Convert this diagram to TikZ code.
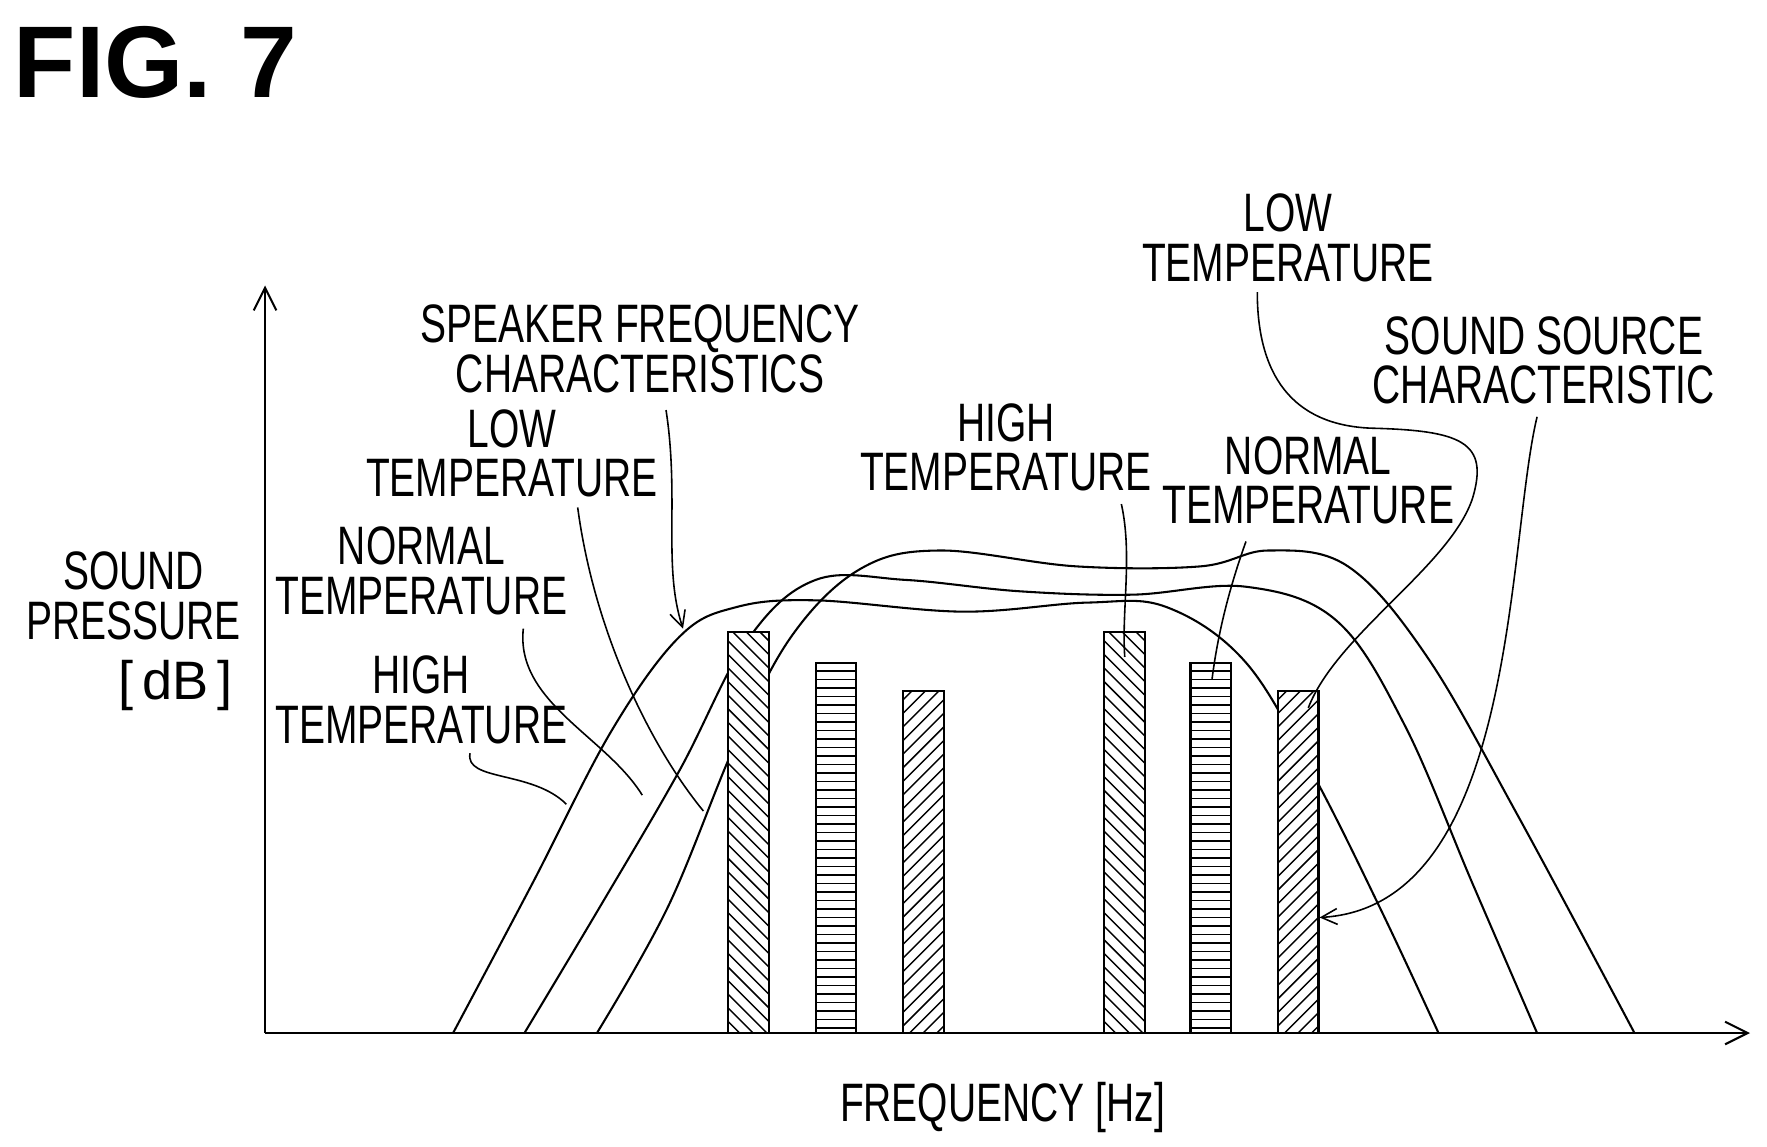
\documentclass[tikz,border=0pt]{standalone}
\usepackage{fontspec}
\newfontfamily\lab[FakeStretch=0.72]{Liberation Sans}
\newfontfamily\figf{Liberation Sans}
\usetikzlibrary{arrows.meta}
\begin{document}
\begin{tikzpicture}[x=0.25mm,y=-0.25mm,
  txt/.style={font=\lab\fontsize{34}{31}\selectfont,align=center,inner sep=0},
  curve/.style={line width=1.3pt},
  lead/.style={line width=1pt},
  bar/.style={line width=1.3pt,fill=white}]
\useasboundingbox (0,0) rectangle (1560,1012);
\node[anchor=west,inner sep=0,font=\figf\bfseries\fontsize{64}{64}\selectfont] (fig) at (12,55) {FIG. 7};
% axes
\coordinate (o) at (234,912);
\coordinate (ytop) at (234,252);
\coordinate (xend) at (1545,912);
\draw[line width=1.3pt,-{Straight Barb[length=5mm,width=5mm]}] (o) -- (ytop);
\draw[line width=1.3pt,-{Straight Barb[length=5mm,width=5mm]}] (o) -- (xend);
\node[txt] (yl) at (118,526) {SOUND\\PRESSURE};
\node[txt,font=\figf\fontsize{34}{31}\selectfont] (db) at (155,605) {[\,dB\,]};
\node[txt] (xl) at (885,978) {FREQUENCY [Hz]};
% curves
\draw[curve] plot[smooth,tension=0.6] coordinates {(400,912) (470,780) (540,645) (600,562) (650,536) (720,530) (850,540) (960,532) (1030,536) (1100,585) (1160,685) (1220,805) (1270,912)};
\draw[curve] plot[smooth,tension=0.6] coordinates {(463,912) (530,800) (600,680) (660,565) (720,512) (800,512) (900,522) (1000,525) (1100,518) (1180,548) (1240,640) (1300,780) (1357,912)};
\draw[curve] plot[smooth,tension=0.6] coordinates {(527,912) (590,800) (650,655) (700,560) (760,502) (830,486) (950,500) (1060,500) (1120,486) (1190,500) (1260,580) (1340,720) (1443,912)};
% bars
\newcommand\hbarD[3]{% x, top: diag down-right
  \filldraw[bar] (#1,912) rectangle (#1+36,#2);
  \begin{scope}\clip (#1,912) rectangle (#1+36,#2);
  \foreach \k in {-40,-28,...,400} \draw[line width=0.9pt] (#1,#2+\k) -- (#1+36,#2+\k+36);
  \end{scope}}
\newcommand\hbarU[2]{%
  \filldraw[bar] (#1,912) rectangle (#1+36,#2);
  \begin{scope}\clip (#1,912) rectangle (#1+36,#2);
  \foreach \k in {-40,-28,...,400} \draw[line width=0.9pt] (#1,#2+\k+36) -- (#1+36,#2+\k);
  \end{scope}}
\newcommand\hbarH[2]{%
  \filldraw[bar] (#1,912) rectangle (#1+36,#2);
  \begin{scope}\clip (#1,912) rectangle (#1+36,#2);
  \foreach \k in {0,7.5,...,340} \draw[line width=0.9pt] (#1,#2+\k) -- (#1+36,#2+\k);
  \end{scope}}
\hbarD{643}{558}{}
\hbarH{720}{585}
\hbarU{797}{610}
\hbarD{975}{558}{}
\hbarH{1051}{585}
\hbarU{1128}{610}
% labels
\node[txt] (spk) at (565,308) {SPEAKER FREQUENCY\\CHARACTERISTICS};
\node[txt] (lowL) at (452,400) {LOW\\TEMPERATURE};
\node[txt] (normL) at (372,504) {NORMAL\\TEMPERATURE};
\node[txt] (highL) at (372,618) {HIGH\\TEMPERATURE};
\node[txt] (highR) at (888,395) {HIGH\\TEMPERATURE};
\node[txt] (normR) at (1155,424) {NORMAL\\TEMPERATURE};
\node[txt] (lowR) at (1137,210) {LOW\\TEMPERATURE};
\node[txt] (src) at (1363,318) {SOUND SOURCE\\CHARACTERISTIC};
% leaders
\coordinate (a1) at (603,555);
\draw[lead,-{Straight Barb[length=3.5mm,width=3.5mm]}] (588,362) .. controls (600,440) and (585,500) .. (a1);
\coordinate (a2) at (621,716);
\draw[lead] (510,448) .. controls (525,560) and (575,660) .. (a2);
\coordinate (a3) at (567,702);
\draw[lead] (462,555) .. controls (455,620) and (535,650) .. (a3);
\coordinate (a4) at (500,710);
\draw[lead] (415,665) .. controls (410,690) and (470,680) .. (a4);
\coordinate (a5) at (993,580);
\draw[lead] (990,445) .. controls (1000,490) and (990,540) .. (a5);
\coordinate (a6) at (1070,600);
\draw[lead] (1100,478) .. controls (1085,520) and (1075,560) .. (a6);
\coordinate (a7) at (1155,625);
\draw[lead] (1110,258) .. controls (1110,330) and (1140,375) .. (1210,378)
  .. controls (1290,380) and (1315,390) .. (1300,440)
  .. controls (1280,500) and (1180,560) .. (a7);
\coordinate (a8) at (1165,810);
\draw[lead,-{Straight Barb[length=3.5mm,width=3.5mm]}] (1357,368) .. controls (1330,480) and (1340,800) .. (a8);
\end{tikzpicture}
\end{document}
